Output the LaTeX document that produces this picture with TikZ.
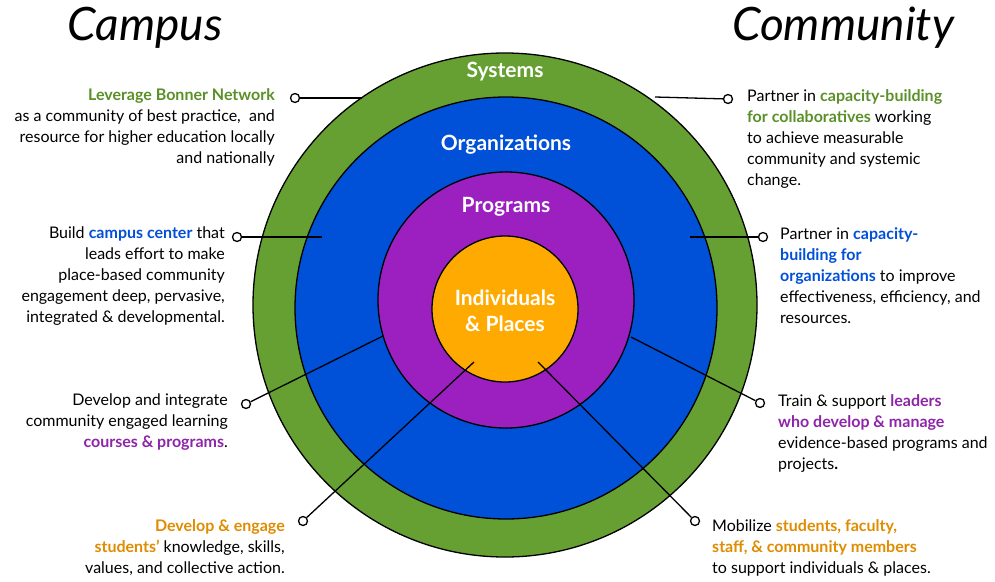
\documentclass[tikz,border=0pt]{standalone}
\usepackage{fontspec}
\setmainfont{Lato}
\definecolor{cg}{HTML}{66A033}
\definecolor{cb}{HTML}{0050D8}
\definecolor{cp}{HTML}{9B20BF}
\definecolor{co}{HTML}{FFAA00}
\definecolor{tg}{HTML}{5A9028}
\definecolor{tb}{HTML}{0050D8}
\definecolor{tp}{HTML}{8E24AA}
\definecolor{to}{HTML}{E08C00}
\begin{document}
\begin{tikzpicture}[x=1pt,y=-1pt,
  ring/.style={draw=black,line width=1.3pt},
  lbl/.style={font=\fontsize{21}{22}\selectfont\bfseries,text=white},
  txt/.style={font=\fontsize{16}{21}\selectfont,inner sep=0pt},
  dot/.style={circle,draw=black,fill=white,line width=1.3pt,minimum size=9pt,inner sep=0pt},
  con/.style={line width=1.3pt}]
\useasboundingbox (0,0) rectangle (995,581);
\fill[white] (0,0) rectangle (995,581);
\node[ring,fill=cg,circle,minimum size=504pt,inner sep=0pt] (sys) at (505,305) {};
\node[ring,fill=cb,circle,minimum size=422pt,inner sep=0pt] (org) at (506,308) {};
\node[ring,fill=cp,circle,minimum size=256pt,inner sep=0pt] (prog) at (506,300) {};
\node[ring,fill=co,circle,minimum size=146pt,inner sep=0pt] (ind) at (505,309) {};
\node[lbl] (l1) at (505,72) {Systems};
\node[lbl] (l2) at (506,145) {Organizations};
\node[lbl] (l3) at (506,207) {Programs};
\node[lbl,align=center,font=\fontsize{21}{26}\selectfont\bfseries] (l4) at (505,311) {Individuals\\\& Places};
\node[font=\fontsize{46}{48}\selectfont\itshape] (campus) at (145,28) {Campus};
\node[font=\fontsize{46}{48}\selectfont\itshape] (comm) at (843,28) {Community};
% dots
\node[dot] (d1) at (295,98) {};
\node[dot] (d2) at (728,99) {};
\node[dot] (d3) at (237,237) {};
\node[dot] (d4) at (763,237) {};
\node[dot] (d5) at (246,404) {};
\node[dot] (d6) at (760,403) {};
\node[dot] (d7) at (303,521) {};
\node[dot] (d8) at (695,521) {};
\coordinate (e1) at (362,98);
\coordinate (e2) at (655,97);
\coordinate (e3) at (322,237);
\coordinate (e4) at (690,237);
\coordinate (e5) at (383,336);
\coordinate (e6) at (631,337);
\coordinate (e7) at (474,362);
\coordinate (e8) at (538,362);
\draw[con] (d1)--(e1); \draw[con] (d2)--(e2);
\draw[con] (d3)--(e3); \draw[con] (d4)--(e4);
\draw[con] (d5)--(e5); \draw[con] (d6)--(e6);
\draw[con] (d7)--(e7); \draw[con] (d8)--(e8);
% texts
\node[txt,align=right,anchor=north east] (t1) at (275,88) {\textcolor{tg}{\bfseries Leverage Bonner Network}\\as a community of best practice,\ \ and\\resource for higher education locally\\and nationally};
\node[txt,align=left,anchor=north west] (t2) at (747,89) {Partner in \textcolor{tg}{\bfseries capacity-building}\\\textcolor{tg}{\bfseries for collaboratives} working\\to achieve measurable\\community and systemic\\change.};
\node[txt,align=right,anchor=north east] (t3) at (225,227) {Build \textcolor{tb}{\bfseries campus center} that\\leads effort to make\\place-based community\\engagement deep, pervasive,\\integrated \& developmental.};
\node[txt,align=left,anchor=north west] (t4) at (780,227) {Partner in \textcolor{tb}{\bfseries capacity-}\\\textcolor{tb}{\bfseries building for}\\\textcolor{tb}{\bfseries organizations} to improve\\effectiveness, efficiency, and\\resources.};
\node[txt,align=right,anchor=north east] (t5) at (228,394) {Develop and integrate\\community engaged learning\\\textcolor{tp}{\bfseries courses \& programs}.};
\node[txt,align=left,anchor=north west] (t6) at (778,394) {Train \& support \textcolor{tp}{\bfseries leaders}\\\textcolor{tp}{\bfseries who develop \& manage}\\evidence-based programs and\\projects\textbf{.}};
\node[txt,align=right,anchor=north east] (t7) at (285,519) {\textcolor{to}{\bfseries Develop \& engage}\\\textcolor{to}{\bfseries students'} knowledge, skills,\\values, and collective action.};
\node[txt,align=left,anchor=north west] (t8) at (712,519) {Mobilize \textcolor{to}{\bfseries students, faculty,}\\\textcolor{to}{\bfseries staff, \& community members}\\to support individuals \& places.};
\end{tikzpicture}
\end{document}
